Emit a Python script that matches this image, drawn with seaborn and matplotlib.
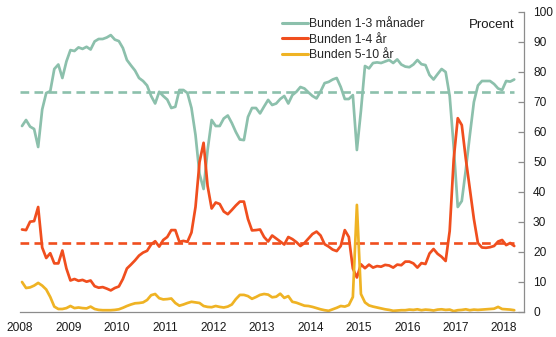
import numpy as np
import pandas as pd
import matplotlib
matplotlib.use("Agg")
import matplotlib.pyplot as plt
from matplotlib.lines import Line2D
import seaborn as sns

# Monthly shares (per cent), January 2008 - March 2018
series_names = ["Bunden 1-3 månader", "Bunden 1-4 år", "Bunden 5-10 år"]

short_fixed = [
    62, 64, 61.8, 61, 55, 67.5, 73, 73.6, 81, 82.5, 78, 83.5,          # 2008
    87.3, 87, 88.2, 87.7, 88.4, 87.5, 90.2, 91, 91, 91.5, 92.3, 90.8,  # 2009
    90.3, 88, 84, 82.2, 80.5, 78, 77, 75.5, 72, 69.5, 73.4, 72,        # 2010
    70.8, 68, 68.4, 74, 74, 73, 68, 59, 46, 41, 54, 64,                # 2011
    62, 62, 64.5, 65.5, 63, 60, 57.5, 57.3, 65, 68, 68, 66.2,          # 2012
    68.5, 70.7, 69, 69.5, 71, 72, 69.5, 72.3, 73.4, 75, 74.5, 73.2,    # 2013
    72, 71.2, 73.5, 76.3, 76.7, 77.5, 78, 75, 71, 71, 72.3, 54,        # 2014
    67, 82, 81.2, 83, 83.2, 83, 83.5, 84, 83, 84.2, 82.5, 81.8,        # 2015
    81.6, 82.5, 84, 82.6, 82.3, 79, 77.5, 79.3, 81, 80, 72, 55,        # 2016
    35, 37, 47.5, 59, 70, 75.5, 77, 77, 77, 76, 74.5, 74,              # 2017
    77, 76.8, 77.5,                                                    # 2018
]

mid_fixed = [
    27.5, 27.3, 30.1, 30.3, 35, 21.5, 18, 19.6, 16.2, 16.2, 20.5, 14.5,  # 2008
    10.5, 11, 10.4, 10.7, 10.1, 10.5, 8.6, 8.1, 8.3, 7.8, 7.2, 8,        # 2009
    8.5, 11, 14.5, 15.8, 17.2, 18.8, 19.8, 20.4, 22.5, 23.6, 21.8, 24,   # 2010
    25, 27.3, 27.3, 23.4, 23.7, 23.4, 26.5, 35, 50, 56.4, 42, 34.5,      # 2011
    36.5, 36, 33.5, 32.6, 34, 35.5, 36.8, 36.8, 31, 27.2, 27.3, 27.5,    # 2012
    25, 23.5, 25.5, 24.5, 23.5, 22.5, 25, 24.3, 23.3, 22, 23, 24.5,      # 2013
    26, 26.8, 25.5, 22.6, 21.8, 20.8, 20.3, 22, 27.3, 25, 14.5, 11.5,    # 2014
    15.9, 14.6, 15.8, 14.8, 15.3, 15.1, 15.7, 15.5, 14.8, 15.8, 15.6, 16.8,  # 2015
    16.8, 16.2, 14.8, 16.3, 16, 19.5, 21, 19.4, 18.4, 17, 27, 51,        # 2016
    64.6, 62.3, 51, 41, 31, 23, 21.5, 21.4, 21.6, 22, 23.5, 24,          # 2017
    22.3, 23, 22,                                                        # 2018
]

long_fixed = [
    10, 8, 8.2, 8.8, 9.7, 8.8, 7.5, 5, 1.8, 1, 1, 1.3,                  # 2008
    2, 1.3, 1.5, 1.3, 1.2, 1.8, 1, 0.7, 0.6, 0.6, 0.6, 0.7,             # 2009
    0.9, 1.4, 2, 2.5, 2.9, 3, 3.2, 4, 5.6, 6, 4.6, 4.2,                 # 2010
    4.3, 4.5, 3, 2.1, 2.5, 3, 3.4, 3.2, 3, 2, 1.7, 1.6,                 # 2011
    2, 1.7, 1.5, 1.8, 2.5, 4.3, 5.7, 5.7, 5.3, 4.4, 5, 5.7,             # 2012
    6, 5.8, 4.9, 5.1, 6.1, 4.7, 5.3, 3.4, 3.1, 2.6, 2.1, 2,             # 2013
    1.7, 1.3, 0.9, 0.6, 0.4, 0.9, 1.4, 2, 1.8, 2.3, 5, 35.7,            # 2014
    6, 3.2, 2.2, 1.8, 1.5, 1.2, 0.9, 0.7, 0.4, 0.5, 0.6, 0.6,           # 2015
    0.8, 0.7, 0.9, 0.6, 0.8, 0.7, 0.5, 0.8, 0.9, 0.7, 0.8, 0.3,         # 2016
    0.6, 0.7, 0.9, 0.6, 0.8, 0.7, 0.8, 0.9, 1.0, 1.1, 1.7, 1.0,         # 2017
    0.9, 0.8, 0.6,                                                      # 2018
]

# Period averages shown as dashed reference lines
averages = [73.3, 23.0]
average_series = ["Bunden 1-3 månader", "Bunden 1-4 år"]

year_ticks = list(range(2008, 2019))
y_ticks = list(range(0, 101, 10))

palette = {"Bunden 1-3 månader": "#8CC0AC",
           "Bunden 1-4 år": "#F04E1E",
           "Bunden 5-10 år": "#EFB324"}

n = len(short_fixed)
assert len(mid_fixed) == n and len(long_fixed) == n
# mid-month position in decimal years
year_pos = 2008 + (np.arange(n) + 0.5) / 12.0

df = pd.DataFrame({
    "year": np.tile(year_pos, 3),
    "value": np.concatenate([short_fixed, mid_fixed, long_fixed]),
    "series": np.repeat(series_names, n),
})

sns.set_style("white")
plt.rcParams["font.family"] = ["Liberation Sans", "DejaVu Sans"]

W, H = 556, 337
fig = plt.figure(figsize=(W / 100, H / 100), dpi=100)
ax = fig.add_axes([20 / W, 25 / H, 504 / W, 300 / H])

for name, avg in zip(average_series, averages):
    ax.hlines(avg, year_ticks[0], year_pos[-1], colors=palette[name],
              linestyles=(0, (3.3, 2.0)), linewidth=1.9, zorder=1)

sns.lineplot(data=df, x="year", y="value", hue="series",
             hue_order=series_names, palette=palette, linewidth=1.95,
             legend=False, ax=ax, zorder=2)

ax.set_xlim(2008, 2018.41)
ax.set_ylim(0, 100)
ax.set_xticks(year_ticks)
ax.set_xticklabels([str(y) for y in year_ticks])
ax.set_yticks(y_ticks)
ax.yaxis.tick_right()
ax.set_xlabel("")
ax.set_ylabel("")

for side in ["left", "top"]:
    ax.spines[side].set_visible(False)
for side in ["right", "bottom"]:
    ax.spines[side].set_color("#8c8c8c")
    ax.spines[side].set_linewidth(0.9)

ax.tick_params(axis="x", direction="out", length=4, width=0.9,
               color="#8c8c8c", labelsize=8.6, pad=3.5, labelcolor="#1a1a1a")
ax.tick_params(axis="y", direction="in", length=4, width=0.9,
               color="#8c8c8c", labelsize=8.6, pad=6.5, labelcolor="#1a1a1a",
               right=True, left=False)

handles = [Line2D([0], [0], color=palette[s], linewidth=2.2) for s in series_names]
fig.legend(handles, series_names, loc="upper left",
           bbox_to_anchor=(282 / W, 1 - 18 / H), frameon=False,
           fontsize=8.8, handlelength=2.1, handletextpad=0.1,
           labelspacing=0.3, borderpad=0, borderaxespad=0)

fig.text(515 / W, 1 - 25 / H, "Procent", ha="right", va="center",
         fontsize=9.5, color="#1a1a1a")

fig.savefig("out.png", dpi=100)
